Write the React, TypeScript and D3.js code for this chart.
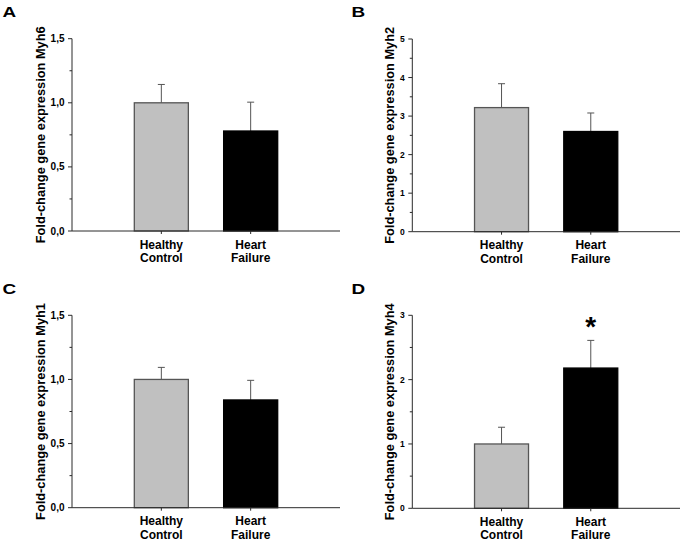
import React from "react";
import * as d3 from "d3";

const categories = ["Healthy Control", "Heart Failure"];
const panelLetters = ["A", "B", "C", "D"];
const genes = ["Myh6", "Myh2", "Myh1", "Myh4"];
const meansA = [1.0, 0.78];
const errA = [0.143, 0.225];
const meansB = [3.22, 2.6];
const errB = [0.62, 0.48];
const meansC = [1.0, 0.84];
const errC = [0.094, 0.153];
const meansD = [1.0, 2.18];
const errD = [0.26, 0.43];
const yMaxes = [1.5, 5, 1.5, 3];
const majorSteps = [0.5, 1, 0.5, 1];
const minorSteps = [0.25, 0.5, 0.25, 0.5];
const tickDecimals = [1, 0, 1, 0];
const significant = [[false, false], [false, false], [false, false], [false, true]];

const FONT = "'Liberation Sans', Arial, Helvetica, sans-serif";

type Layout = { x0: number; x1: number; yTop: number; yBot: number; labelX: number; letterX: number; letterY: number; tickFont: number };
const layouts: Layout[] = [
  { x0: 72, x1: 340, yTop: 38.7, yBot: 231, labelX: 40, letterX: 2.5, letterY: 17, tickFont: 10 },
  { x0: 412.3, x1: 680, yTop: 39, yBot: 231.7, labelX: 389, letterX: 351.5, letterY: 17, tickFont: 8.5 },
  { x0: 72, x1: 340, yTop: 315.3, yBot: 507.7, labelX: 40, letterX: 2.5, letterY: 293.5, tickFont: 10 },
  { x0: 412.3, x1: 680, yTop: 315.3, yBot: 508.3, labelX: 389, letterX: 351.5, letterY: 293.5, tickFont: 8.5 },
];

const allMeans = [meansA, meansB, meansC, meansD];
const allErrs = [errA, errB, errC, errD];

function range(step: number, max: number) {
  const out: number[] = [];
  const n = Math.round(max / step);
  for (let i = 0; i <= n; i++) out.push(+(i * step).toFixed(4));
  return out;
}

function Panel({ idx }: { idx: number }) {
  const L = layouts[idx];
  const means = allMeans[idx];
  const errs = allErrs[idx];
  const y = d3.scaleLinear().domain([0, yMaxes[idx]]).range([L.yBot, L.yTop]);
  const x = d3.scalePoint<string>().domain(categories).range([L.x0, L.x1]).padding(1);
  const step = x.step();
  const bw = step * 0.605;
  const majors = range(majorSteps[idx], yMaxes[idx]);
  const minors = range(minorSteps[idx], yMaxes[idx]).filter(
    (v) => !majors.some((m) => Math.abs(m - v) < 1e-6)
  );
  const fmt = (v: number) => v.toFixed(tickDecimals[idx]).replace(".", ",");
  const axisColor = "#2a2a2a";
  const midY = (L.yTop + L.yBot) / 2;
  return (
    <g>
      <text
        transform={`translate(${L.letterX},${L.letterY}) scale(1.22,1)`}
        fontFamily={FONT}
        fontWeight="bold"
        fontSize={15.5}
        fill="#000"
      >
        {panelLetters[idx]}
      </text>
      <text
        transform={`translate(${L.labelX},${midY}) rotate(-90)`}
        textAnchor="middle"
        dominantBaseline="central"
        fontFamily={FONT}
        fontWeight="bold"
        fontSize={12.8}
        fill="#000"
      >
        {`Fold-change gene expression ${genes[idx]}`}
      </text>
      {categories.map((c, i) => {
        const cx = x(c) as number;
        const top = y(means[i]);
        const errTop = y(means[i] + errs[i]);
        return (
          <g key={c}>
            <line x1={cx} x2={cx} y1={top} y2={errTop} stroke="#555" strokeWidth={1} />
            <line x1={cx - 3.5} x2={cx + 3.5} y1={errTop} y2={errTop} stroke="#555" strokeWidth={1} />
            <rect
              x={cx - bw / 2}
              y={top}
              width={bw}
              height={L.yBot - top}
              fill={i === 0 ? "#c0c0c0" : "#000"}
              stroke={i === 0 ? "#555" : "#000"}
              strokeWidth={1.3}
            />
            {significant[idx][i] && (
              <text
                x={cx}
                y={errTop - 3}
                textAnchor="middle"
                fontFamily={FONT}
                fontWeight="bold"
                fontSize={28}
                fill="#000"
                dy="0.62em"
                transform={`translate(0,-19)`}
              >
                *
              </text>
            )}
            <line x1={cx} x2={cx} y1={L.yBot} y2={L.yBot + 3} stroke={axisColor} strokeWidth={1} />
            {c.split(" ").map((w, k) => (
              <text
                key={w}
                x={cx}
                y={L.yBot + 17.5 + k * 13.5}
                textAnchor="middle"
                fontFamily={FONT}
                fontWeight="bold"
                fontSize={12}
                fill="#000"
              >
                {w}
              </text>
            ))}
          </g>
        );
      })}
      <line x1={L.x0} x2={L.x0} y1={L.yTop} y2={L.yBot} stroke={axisColor} strokeWidth={1} />
      <line x1={L.x0} x2={L.x1} y1={L.yBot} y2={L.yBot} stroke={axisColor} strokeWidth={1} />
      {majors.map((v) => (
        <g key={"M" + v}>
          <line x1={L.x0 - 4} x2={L.x0} y1={y(v)} y2={y(v)} stroke={axisColor} strokeWidth={1} />
          <text
            x={L.x0 - 7.5}
            y={y(v)}
            textAnchor="end"
            dominantBaseline="central"
            fontFamily={FONT}
            fontWeight="bold"
            fontSize={L.tickFont}
            fill="#000"
          >
            {fmt(v)}
          </text>
        </g>
      ))}
      {minors.map((v) => (
        <line key={"m" + v} x1={L.x0 - 2.5} x2={L.x0} y1={y(v)} y2={y(v)} stroke={axisColor} strokeWidth={1} />
      ))}
    </g>
  );
}

export default function App() {
  return (
    <svg width={683} height={542} style={{ position: "absolute", left: 0, top: 0, background: "#fff" }}>
      <rect width={683} height={542} fill="#fff" />
      {[0, 1, 2, 3].map((i) => (
        <Panel key={i} idx={i} />
      ))}
    </svg>
  );
}
